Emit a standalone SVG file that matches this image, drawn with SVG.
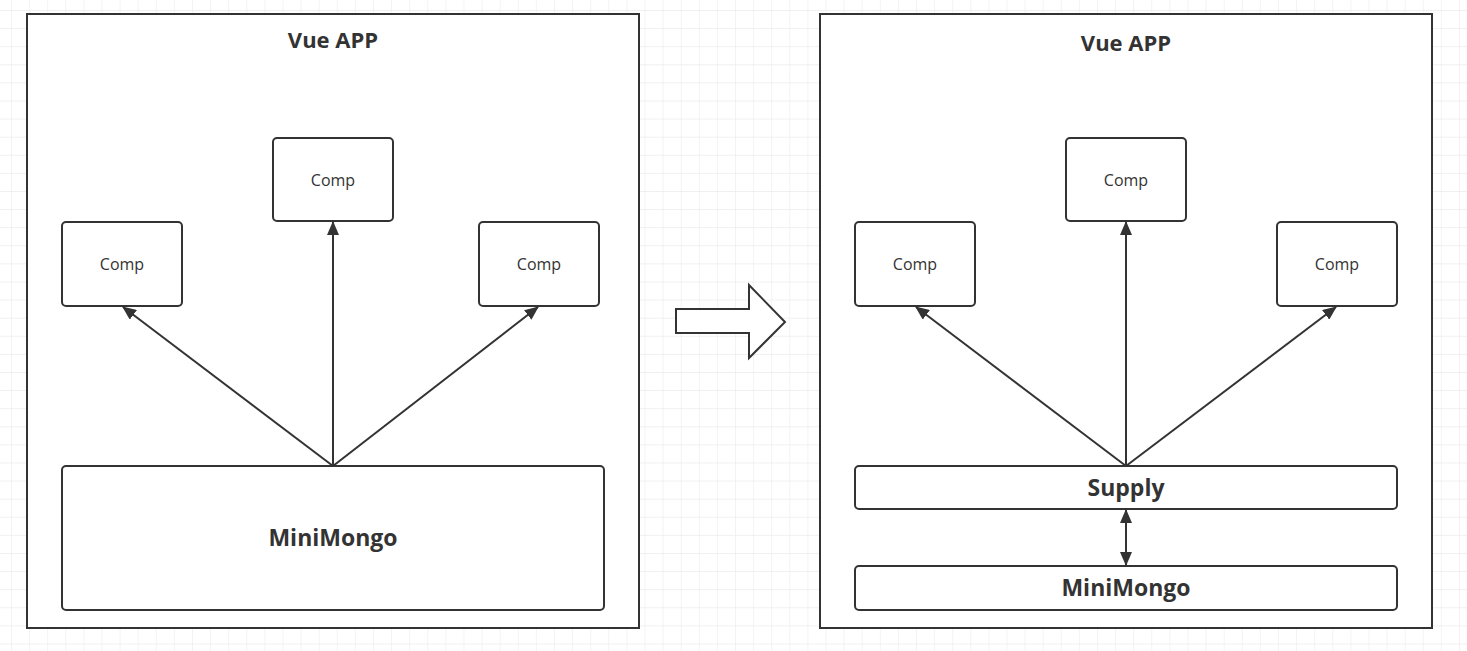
<svg xmlns="http://www.w3.org/2000/svg" width="1467" height="651" viewBox="0 0 1467 651">
<defs>
<pattern id="grid" x="11" y="10" width="18.1" height="18.1" patternUnits="userSpaceOnUse">
<path d="M0 0H18.1M0 0V18.1" fill="none" stroke="#ececec" stroke-width="1.2"/>
</pattern>
<marker id="ah" viewBox="0 0 14 12" refX="13" refY="6" markerWidth="14" markerHeight="12" markerUnits="userSpaceOnUse" orient="auto-start-reverse">
<path d="M0 0L14 6L0 12Z" fill="#333"/>
</marker>
<style>
.frame{fill:#fff;stroke:#333;stroke-width:2}
.box{fill:#fff;stroke:#333;stroke-width:2}
.con{fill:none;stroke:#333;stroke-width:2}
.t{font-family:"Open Sans","Noto Sans",sans-serif;fill:#333;text-anchor:middle;dominant-baseline:central}
.title{font-size:22px;font-weight:bold}
.comp{font-size:16px}
.big{font-size:23px;font-weight:bold}
</style>
</defs>
<rect width="1467" height="651" fill="#fff"/>
<rect width="1467" height="651" fill="url(#grid)"/>

<g id="frame-left">
<rect class="frame" x="27" y="14" width="612" height="614"/>
<text class="t title" x="333" y="39">Vue APP</text>
</g>
<g id="frame-right">
<rect class="frame" x="820" y="14" width="612" height="614"/>
<text class="t title" x="1126" y="42">Vue APP</text>
</g>

<g id="big-arrow">
<path d="M676 309H749V285L785 322L749 358V333H676Z" fill="#fff" stroke="#333" stroke-width="2"/>
</g>

<g id="l-comp-top"><rect class="box" x="273" y="138" width="120" height="83" rx="4"/><text class="t comp" x="333" y="180">Comp</text></g>
<g id="l-comp-left"><rect class="box" x="62" y="222" width="120" height="84" rx="4"/><text class="t comp" x="122" y="264">Comp</text></g>
<g id="l-comp-right"><rect class="box" x="479" y="222" width="120" height="84" rx="4"/><text class="t comp" x="539" y="264">Comp</text></g>
<g id="l-minimongo"><rect class="box" x="62" y="466" width="542" height="144" rx="4"/><text class="t big" x="333" y="537">MiniMongo</text></g>

<g id="r-comp-top"><rect class="box" x="1066" y="138" width="120" height="83" rx="4"/><text class="t comp" x="1126" y="180">Comp</text></g>
<g id="r-comp-left"><rect class="box" x="855" y="222" width="120" height="84" rx="4"/><text class="t comp" x="915" y="264">Comp</text></g>
<g id="r-comp-right"><rect class="box" x="1277" y="222" width="120" height="84" rx="4"/><text class="t comp" x="1337" y="264">Comp</text></g>
<g id="r-supply"><rect class="box" x="855" y="466" width="542" height="43" rx="4"/><text class="t big" x="1126" y="487">Supply</text></g>
<g id="r-minimongo"><rect class="box" x="855" y="566" width="542" height="44" rx="4"/><text class="t big" x="1126" y="587">MiniMongo</text></g>

<g id="connectors">
<line class="con" x1="333" y1="466" x2="333" y2="222" marker-end="url(#ah)"/>
<line class="con" x1="333" y1="466" x2="123" y2="307" marker-end="url(#ah)"/>
<line class="con" x1="333" y1="466" x2="538" y2="307" marker-end="url(#ah)"/>
<line class="con" x1="1126" y1="466" x2="1126" y2="222" marker-end="url(#ah)"/>
<line class="con" x1="1126" y1="466" x2="916" y2="307" marker-end="url(#ah)"/>
<line class="con" x1="1126" y1="466" x2="1336" y2="307" marker-end="url(#ah)"/>
<line class="con" x1="1126" y1="510" x2="1126" y2="565" marker-start="url(#ah)" marker-end="url(#ah)"/>
</g>
</svg>
